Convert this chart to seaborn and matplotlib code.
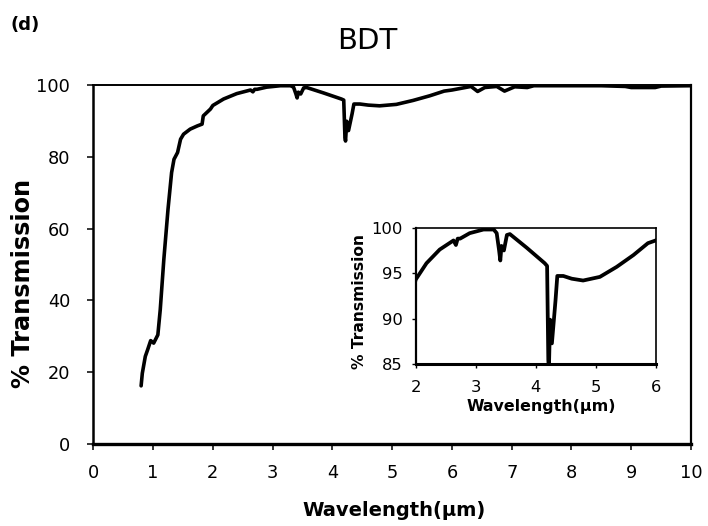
import matplotlib
matplotlib.use("Agg")
import matplotlib.pyplot as plt
import seaborn as sns
import pandas as pd

# ---- data ----
wavelength = [0.80, 0.82, 0.87, 0.91, 0.96, 1.01, 1.08, 1.12, 1.18, 1.25,
              1.31, 1.35, 1.41, 1.46, 1.51, 1.62, 1.74, 1.82, 1.84, 1.96,
              2.00, 2.18, 2.40, 2.63, 2.67, 2.70, 2.74, 2.90, 3.13, 3.30,
              3.35, 3.39, 3.41, 3.43, 3.47, 3.52, 3.57, 3.85, 4.15, 4.19, 4.21,
              4.22, 4.24, 4.27, 4.33, 4.36, 4.46, 4.60, 4.79, 5.07, 5.35, 5.63,
              5.87, 6.00, 6.32, 6.43, 6.55, 6.75, 6.88, 7.05, 7.26, 7.37,
              8.50, 8.90, 9.00, 9.40, 9.50, 10.00]
transmission = [16.2, 19.7, 24.4, 26.3, 28.8, 28.1, 30.4, 37.4, 51.4, 65.4,
                75.6, 79.3, 81.2, 84.9, 86.3, 87.7, 88.6, 89.1, 91.4, 93.3,
                94.3, 96.1, 97.6, 98.6, 98.1, 98.8, 98.8, 99.4, 99.8, 99.8,
                99.4, 97.5, 96.4, 98.0, 97.5, 99.2, 99.3, 97.8, 96.1, 95.8, 85.5,
                84.4, 89.9, 87.3, 92.0, 94.7, 94.7, 94.4, 94.2, 94.6, 95.7, 97.0,
                98.3, 98.6, 99.6, 98.2, 99.3, 99.6, 98.3, 99.5, 99.3, 99.8,
                99.8, 99.6, 99.3, 99.3, 99.7, 99.8]
main_xticks = [0, 1, 2, 3, 4, 5, 6, 7, 8, 9, 10]
main_yticks = [0, 20, 40, 60, 80, 100]
inset_xticks = [2, 3, 4, 5, 6]
inset_yticks = [85, 90, 95, 100]
title = "BDT"
panel = "(d)"
xlabel = "Wavelength(µm)"
ylabel = "% Transmission"

df = pd.DataFrame({"wl": wavelength, "T": transmission})

sns.set_style("white")
plt.rcParams["font.family"] = ["DejaVu Sans"]
plt.rcParams["text.color"] = "black"
plt.rcParams["axes.labelcolor"] = "black"
plt.rcParams["xtick.color"] = "black"
plt.rcParams["ytick.color"] = "black"

W, H = 708, 526
fig = plt.figure(figsize=(W / 100, H / 100), dpi=100)

def fx(px):
    return px / W

def fy(py):
    return 1 - py / H

# main axes
ax = fig.add_axes([fx(93.3), fy(444), fx(691) - fx(93.3), (444 - 85) / H])
sns.lineplot(data=df, x="wl", y="T", ax=ax, color="black", linewidth=2.6,
             sort=False, estimator=None)
ax.set_xlim(0, 10)
ax.set_ylim(0, 100)
ax.set_xticks(main_xticks)
ax.set_yticks(main_yticks)
ax.set_xlabel("")
ax.set_ylabel("")
ax.tick_params(axis="both", which="major", direction="out", length=4.2,
               width=1.1, color="black", labelsize=12.8, labelcolor="black")
ax.tick_params(axis="x", pad=10.5, bottom=True)
ax.tick_params(axis="y", pad=12.5, left=True)
for side, lw in {"left": 1.8, "bottom": 2.4, "top": 1.4, "right": 1.6}.items():
    ax.spines[side].set_visible(True)
    ax.spines[side].set_color("black")
    ax.spines[side].set_linewidth(lw)

# inset axes
ins = fig.add_axes([fx(415.7), fy(364.3), (655.7 - 415.7) / W, (364.3 - 227.7) / H])
sns.lineplot(data=df, x="wl", y="T", ax=ins, color="black", linewidth=2.7,
             sort=False, estimator=None)
ins.set_xlim(2, 6)
ins.set_ylim(85, 100)
ins.set_xticks(inset_xticks)
ins.set_yticks(inset_yticks)
ins.set_xlabel("")
ins.set_ylabel("")
ins.tick_params(axis="both", which="major", direction="out", length=3.2,
                width=1.0, color="black", labelsize=11.8, labelcolor="black")
ins.tick_params(axis="x", pad=8, bottom=True)
ins.tick_params(axis="y", pad=6, left=True)
for side, lw in {"left": 1.6, "bottom": 2.2, "top": 1.2, "right": 1.2}.items():
    ins.spines[side].set_visible(True)
    ins.spines[side].set_color("black")
    ins.spines[side].set_linewidth(lw)

# texts
fig.text(fx(367.7), fy(40.7), title, fontsize=21, ha="center", va="center", color="black")
fig.text(fx(25), fy(25), panel, fontsize=13, fontweight="bold", ha="center", va="center",
         color="black")
fig.text(fx(394), fy(510), xlabel, fontsize=14, fontweight="bold", ha="center", va="center",
         color="black")
fig.text(fx(23), fy(283.5), ylabel, fontsize=17.3, fontweight="bold", rotation=90,
         ha="center", va="center", color="black")
fig.text(fx(541), fy(406), xlabel, fontsize=11.4, fontweight="bold", ha="center", va="center",
         color="black")
fig.text(fx(359), fy(301.5), ylabel, fontsize=11.2, fontweight="bold", rotation=90,
         ha="center", va="center", color="black")

fig.savefig("out.png", dpi=100, facecolor="white")
